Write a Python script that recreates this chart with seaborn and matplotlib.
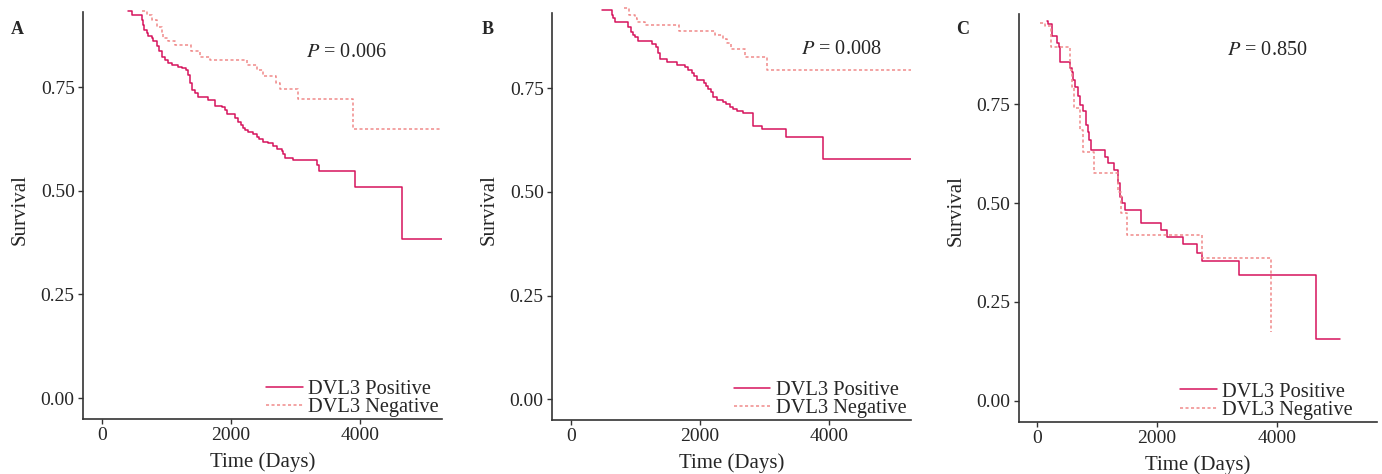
import matplotlib
matplotlib.use("Agg")
import pandas as pd
import seaborn as sns
from matplotlib import pyplot as plt

# Kaplan-Meier curves: time in days, survival fraction
a_pos_time = [412, 463, 582, 618, 644, 659, 696, 721, 773, 799, 850, 891, 928, 979, 1031, 1082,
              1185, 1237, 1304, 1340, 1366, 1392, 1443, 1495, 1649, 1753, 1856, 1907, 1933, 2062,
              2113, 2150, 2181, 2217, 2268, 2345, 2397, 2438, 2500, 2577, 2655, 2706, 2784, 2809,
              2835, 2964, 3335, 3361, 3918, 4640, 5259]
a_pos_surv = [0.935, 0.924, 0.924, 0.913, 0.901, 0.889, 0.881, 0.873, 0.869, 0.861, 0.849, 0.837,
              0.824, 0.816, 0.808, 0.804, 0.800, 0.796, 0.791, 0.780, 0.760, 0.744, 0.736, 0.728,
              0.720, 0.705, 0.702, 0.696, 0.686, 0.676, 0.667, 0.659, 0.651, 0.646, 0.642, 0.638,
              0.631, 0.626, 0.619, 0.615, 0.609, 0.601, 0.597, 0.589, 0.580, 0.575, 0.562, 0.548,
              0.510, 0.383, 0.383]
a_neg_time = [618, 696, 773, 850, 928, 953, 1031, 1134, 1381, 1521, 1675, 2253, 2397, 2500, 2696,
              2758, 3031, 3882, 5259]
a_neg_surv = [0.935, 0.925, 0.913, 0.897, 0.881, 0.869, 0.861, 0.853, 0.837, 0.824, 0.815, 0.804,
              0.792, 0.778, 0.760, 0.746, 0.721, 0.649, 0.649]

b_pos_time = [479, 634, 660, 686, 892, 928, 959, 995, 1036, 1253, 1320, 1356, 1382, 1495, 1639,
              1768, 1820, 1871, 1907, 1949, 2062, 2093, 2129, 2165, 2206, 2258, 2361, 2397, 2464,
              2505, 2567, 2670, 2815, 2825, 2954, 3325, 3907, 5258]
b_pos_surv = [0.940, 0.927, 0.919, 0.911, 0.899, 0.887, 0.879, 0.873, 0.863, 0.856, 0.850, 0.834,
              0.820, 0.814, 0.806, 0.802, 0.794, 0.788, 0.780, 0.770, 0.764, 0.756, 0.748, 0.740,
              0.730, 0.723, 0.718, 0.712, 0.706, 0.700, 0.695, 0.690, 0.685, 0.660, 0.652, 0.633,
              0.580, 0.580]
b_neg_time = [825, 902, 995, 1031, 1150, 1681, 2237, 2361, 2413, 2474, 2696, 3031, 5258]
b_neg_surv = [0.943, 0.927, 0.919, 0.911, 0.902, 0.888, 0.879, 0.868, 0.859, 0.844, 0.826, 0.794,
              0.794]

c_pos_time = [166, 183, 249, 332, 365, 387, 553, 581, 603, 631, 686, 714, 775, 824, 852, 869, 896,
              1140, 1184, 1284, 1356, 1378, 1411, 1472, 1737, 2064, 2163, 2429, 2667, 2744, 3364,
              4648, 5035]
c_pos_surv = [0.960, 0.954, 0.922, 0.906, 0.896, 0.858, 0.841, 0.833, 0.812, 0.795, 0.770, 0.749,
              0.732, 0.698, 0.681, 0.660, 0.635, 0.618, 0.601, 0.584, 0.550, 0.516, 0.500, 0.483,
              0.449, 0.432, 0.414, 0.396, 0.373, 0.354, 0.317, 0.157, 0.157]
c_neg_time = [55, 138, 232, 553, 592, 620, 719, 775, 952, 1350, 1405, 1494, 2755, 3901]
c_neg_surv = [0.955, 0.949, 0.896, 0.837, 0.795, 0.740, 0.685, 0.630, 0.577, 0.529, 0.474, 0.419,
              0.360, 0.175]

groups = ["DVL3 Positive", "DVL3 Negative"]
panel_letters = ["A", "B", "C"]
p_values = ["0.006", "0.008", "0.850"]
x_ticks = [0, 2000, 4000]
y_ticks = [0.00, 0.25, 0.50, 0.75]
y_tick_labels = ["0.00", "0.25", "0.50", "0.75"]

sns.set_style("ticks")
plt.rcParams["font.family"] = ["Liberation Serif", "DejaVu Serif"]
plt.rcParams["mathtext.fontset"] = "stix"

colors = {"DVL3 Positive": "#d6145c", "DVL3 Negative": "#f08a8a"}
dashes = {"DVL3 Positive": "", "DVL3 Negative": (2.0, 1.6)}

panels = [
    (a_pos_time, a_pos_surv, a_neg_time, a_neg_surv),
    (b_pos_time, b_pos_surv, b_neg_time, b_neg_surv),
    (c_pos_time, c_pos_surv, c_neg_time, c_neg_surv),
]

# layout per panel: axes rect, xlim, ylim, spine top, P text pos, legend centre, letter x
layout = [
    dict(rect=[0.0601, 0.1160, 0.2597, 0.8840], xlim=(-290, 5264), ylim=(-0.0507, 0.961),
         spine_top=0.932, ptxt=(0.735, 0.874), leg_x=0.75, letter_x=17),
    dict(rect=[0.3994, 0.1139, 0.2596, 0.8861], xlim=(-289, 5258), ylim=(-0.050, 0.963),
         spine_top=0.932, ptxt=(0.808, 0.881), leg_x=0.747, letter_x=488),
    dict(rect=[0.7371, 0.1103, 0.2593, 0.8897], xlim=(-299, 5655), ylim=(-0.053, 1.014),
         spine_top=0.979, ptxt=(0.694, 0.881), leg_x=0.692, letter_x=963),
]

fig = plt.figure(figsize=(13.82, 4.74), dpi=100)
fs = 14

for i, (pt, ps, nt, ns) in enumerate(panels):
    lay = layout[i]
    ax = fig.add_axes(lay["rect"])
    df = pd.concat([
        pd.DataFrame({"time": pt, "survival": ps, "group": groups[0]}),
        pd.DataFrame({"time": nt, "survival": ns, "group": groups[1]}),
    ])
    sns.lineplot(data=df, x="time", y="survival", hue="group", style="group",
                 hue_order=groups, style_order=groups, palette=colors, dashes=dashes,
                 estimator=None, sort=False, drawstyle="steps-post", linewidth=1.1, ax=ax)

    ax.set_xlim(*lay["xlim"])
    ax.set_ylim(*lay["ylim"])
    ax.set_xticks(x_ticks)
    ax.set_yticks(y_ticks)
    ax.set_yticklabels(y_tick_labels)
    ax.tick_params(labelsize=fs, length=3.5, width=1, color="#333333", pad=2.5)
    ax.set_xlabel("Time (Days)", fontsize=15, labelpad=6)
    ax.set_ylabel("Survival", fontsize=15, labelpad=8)
    sns.despine(ax=ax)
    for side in ["left", "bottom"]:
        ax.spines[side].set_color("#333333")
        ax.spines[side].set_linewidth(1.2)
    ax.spines["left"].set_bounds(lay["ylim"][0], lay["spine_top"])

    old = ax.get_legend()
    handles = old.legend_handles
    labels = [t.get_text() for t in old.get_texts()]
    old.remove()
    ax.legend(handles, labels, frameon=False, fontsize=14.7, loc="lower center",
              bbox_to_anchor=(lay["leg_x"], 0.0), labelspacing=-0.06, handlelength=1.8,
              handletextpad=0.25, borderpad=0.1, borderaxespad=0)

    ax.text(*lay["ptxt"], "$P$ = " + p_values[i], transform=ax.transAxes,
            fontsize=14.6, ha="center", va="center")
    fig.text(lay["letter_x"] / 1382, 1 - 30 / 474, panel_letters[i], fontsize=13,
             fontweight="bold", ha="center", va="center")

fig.savefig("out.png", dpi=100)
